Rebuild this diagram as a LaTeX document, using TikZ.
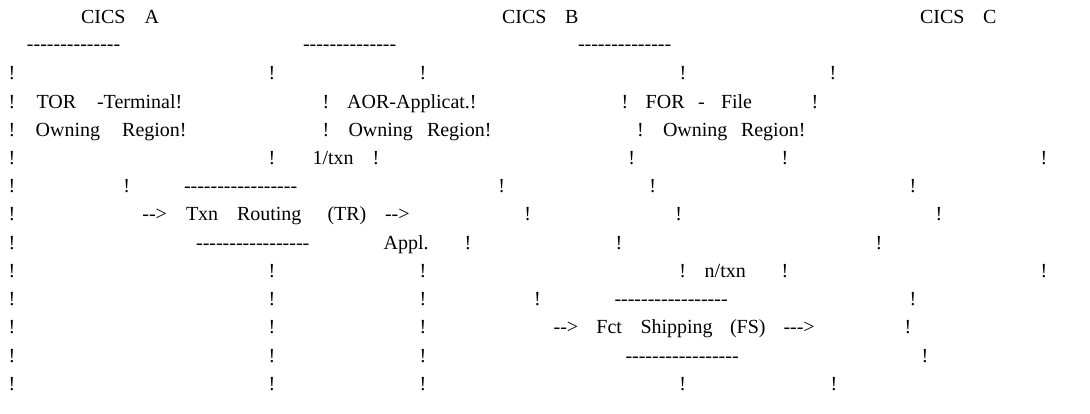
\documentclass[tikz,border=0pt]{standalone}
\usepackage{fontspec}
\setmainfont{Liberation Serif}[Ligatures=TeXOff]
\tikzset{
  txt/.style={anchor=base west,inner sep=0pt,outer sep=0pt,font=\fontsize{20}{24}\selectfont},
  bang/.style={anchor=base,inner sep=0pt,outer sep=0pt,font=\fontsize{20}{24}\selectfont}
}
\newcommand\tx[4]{\node[txt] (#1) at (#2,#3) {#4};}
\newcommand\bg[3]{\node[bang] (#1) at (#2,#3) {!};}
\newcommand\dfourteen{--------------}
\newcommand\dseventeen{-----------------}
\begin{document}
\begin{tikzpicture}[x=1pt,y=-1pt]
\useasboundingbox[fill=white] (0,0) rectangle (1090,414);
% row 0
\tx{ca1}{81}{23.6}{CICS}\tx{ca2}{144.5}{23.6}{A}
\tx{cb1}{502}{23.6}{CICS}\tx{cb2}{565}{23.6}{B}
\tx{cc1}{920}{23.6}{CICS}\tx{cc2}{983}{23.6}{C}
% row 1
\tx{d1}{27}{51}{\dfourteen}\tx{d2}{303}{51}{\dfourteen}\tx{d3}{578}{51}{\dfourteen}
% row 2
\bg{b2a}{12}{80}\bg{b2b}{272}{80}\bg{b2c}{423}{80}\bg{b2d}{683}{80}\bg{b2e}{833}{80}
% row 3
\bg{b3a}{12}{108.2}\tx{tor}{36.5}{108.2}{TOR}\tx{term}{97}{108.2}{-Terminal!}
\bg{b3b}{326}{108.2}\tx{aor}{347.2}{108.2}{AOR-Applicat.!}
\bg{b3c}{625}{108.2}\tx{for}{645.7}{108.2}{FOR}\tx{fdash}{698}{108.2}{-}\tx{file}{721}{108.2}{File}
\bg{b3d}{815}{108.2}
% row 4
\bg{b4a}{12}{136.4}\tx{own1}{35.7}{136.4}{Owning}\tx{reg1}{122.2}{136.4}{Region!}
\bg{b4b}{326}{136.4}\tx{own2}{348.5}{136.4}{Owning}\tx{reg2}{427}{136.4}{Region!}
\bg{b4c}{640.5}{136.4}\tx{own3}{663}{136.4}{Owning}\tx{reg3}{741}{136.4}{Region!}
% row 5
\bg{b5a}{12}{164.6}\bg{b5b}{272}{164.6}\tx{onetxn}{312.5}{164.6}{1/txn}\bg{b5c}{376}{164.6}
\bg{b5d}{631.8}{164.6}\bg{b5e}{785}{164.6}\bg{b5f}{1044}{164.6}
% row 6
\bg{b6a}{12}{192.8}\bg{b6b}{126.8}{192.8}\tx{d4}{184}{192.8}{\dseventeen}
\bg{b6c}{501.8}{192.8}\bg{b6d}{652.6}{192.8}\bg{b6e}{913}{192.8}
% row 7
\bg{b7a}{12}{221}\tx{ar1}{142.4}{221}{-->}\tx{txn}{186}{221}{Txn}\tx{rout}{237}{221}{Routing}
\tx{tr}{327.5}{221}{(TR)}\tx{ar2}{385}{221}{-->}
\bg{b7b}{527.8}{221}\bg{b7c}{678.6}{221}\bg{b7d}{939}{221}
% row 8
\bg{b8a}{12}{249.2}\tx{d5}{196.1}{249.2}{\dseventeen}\tx{appl}{383.6}{249.2}{Appl.}
\bg{b8b}{468}{249.2}\bg{b8c}{619}{249.2}\bg{b8d}{879}{249.2}
% row 9
\bg{b9a}{12}{277.4}\bg{b9b}{272}{277.4}\bg{b9c}{423}{277.4}\bg{b9d}{682.8}{277.4}
\tx{ntxn}{704.7}{277.4}{n/txn}\bg{b9e}{785}{277.4}\bg{b9f}{1044}{277.4}
% row 10
\bg{b10a}{12}{305.6}\bg{b10b}{272}{305.6}\bg{b10c}{423}{305.6}\bg{b10d}{537.5}{305.6}
\tx{d6}{614.5}{305.6}{\dseventeen}\bg{b10e}{913}{305.6}
% row 11
\bg{b11a}{12}{333.8}\bg{b11b}{272}{333.8}\bg{b11c}{423}{333.8}
\tx{ar3}{553.6}{333.8}{-->}\tx{fct}{596.4}{333.8}{Fct}\tx{ship}{640.5}{333.8}{Shipping}
\tx{fs}{730}{333.8}{(FS)}\tx{ar4}{783.5}{333.8}{--->}\bg{b11d}{908}{333.8}
% row 12
\bg{b12a}{12}{362}\bg{b12b}{272}{362}\bg{b12c}{423}{362}
\tx{d7}{625.5}{362}{\dseventeen}\bg{b12d}{925}{362}
% row 13
\bg{b13a}{12}{390.2}\bg{b13b}{272}{390.2}\bg{b13c}{423}{390.2}\bg{b13d}{682.8}{390.2}\bg{b13e}{833.9}{390.2}
\end{tikzpicture}
\end{document}
